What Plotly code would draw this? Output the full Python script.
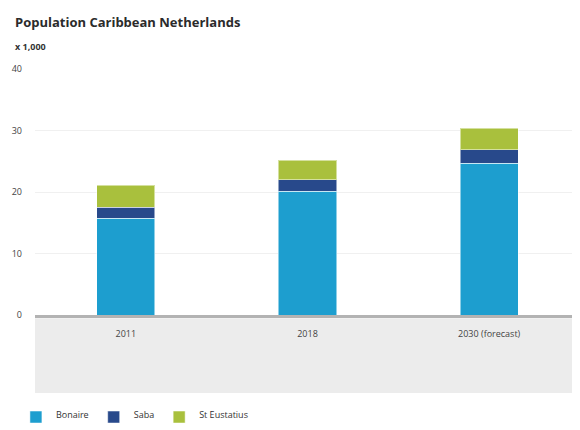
import plotly.graph_objects as go

categories = ["2011", "2018", "2030 (forecast)"]
bonaire = [15.7, 20.1, 24.7]
saba = [1.8, 1.9, 2.2]
st_eustatius = [3.6, 3.2, 3.5]
y_ticks = [0, 10, 20, 30, 40]

colors = {"Bonaire": "#1d9ecf", "Saba": "#28498b", "St Eustatius": "#a9c03d"}

fig = go.Figure()
for name, vals in [("Bonaire", bonaire), ("Saba", saba), ("St Eustatius", st_eustatius)]:
    fig.add_trace(go.Bar(
        x=categories, y=vals, name=name,
        marker=dict(color=colors[name], line=dict(color="rgba(255,255,255,0.5)", width=1)),
        width=0.32,
    ))

fig.update_layout(
    width=572, height=422,
    barmode="stack",
    margin=dict(l=27, r=0, t=61, b=115),
    paper_bgcolor="white", plot_bgcolor="white",
    font=dict(family="Open Sans", color="#333"),
    showlegend=True,
    legend=dict(orientation="h", x=-0.035, xanchor="left", y=-0.465, yanchor="bottom",
                font=dict(size=9, color="#333"), itemwidth=30, traceorder="normal",
                valign="bottom"),
    shapes=[dict(type="rect", xref="paper", yref="paper", x0=0, x1=0.99, y0=-0.013, y1=-0.317,
                 fillcolor="#ececec", line=dict(width=0), layer="below")],
    annotations=[
        dict(text="<b>Population Caribbean Netherlands</b>", xref="paper", yref="paper",
             x=-0.04, y=1.19, xanchor="left", yanchor="middle", showarrow=False,
             font=dict(size=13, color="#2b2b2b")),
        dict(text="<b>x 1,000</b>", xref="paper", yref="paper",
             x=-0.04, y=1.09, xanchor="left", yanchor="middle", showarrow=False,
             font=dict(size=9, color="#333")),
    ],
)
fig.update_xaxes(showline=True, linecolor="#b3b3b3", linewidth=3, showgrid=False,
                 tickfont=dict(size=9, color="#444"), ticks="", ticklabelstandoff=8)
fig.update_yaxes(range=[0, 40], tickvals=y_ticks, showgrid=True, gridcolor="#f0f0f0",
                 zeroline=False, tickfont=dict(size=9, color="#444"), ticklabelstandoff=12)

fig.write_html("out.html")
